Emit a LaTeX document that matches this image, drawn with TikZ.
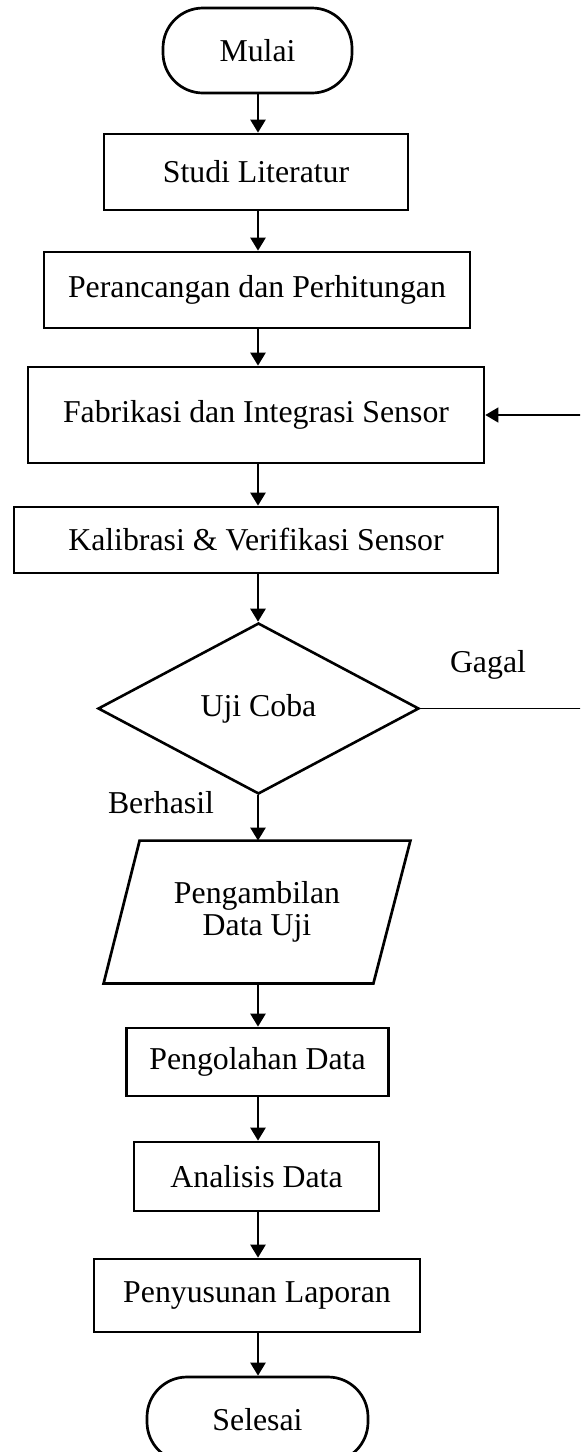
\documentclass[tikz,border=0pt]{standalone}
\usepackage{fontspec}
\setmainfont{Liberation Serif}
\usetikzlibrary{arrows.meta,shapes.geometric,calc}
\begin{document}
\begin{tikzpicture}[x=0.5pt,y=-0.5pt,
  every node/.style={font=\fontsize{15.9pt}{16pt}\selectfont, inner sep=0pt},
  procbox/.style={draw, line width=1.35pt, rectangle},
  termbox/.style={draw, line width=1.35pt, rectangle, rounded corners=20pt},
  decbox/.style={draw, line width=1.3pt, diamond},
  flow/.style={line width=1.25pt, -{Triangle[length=6.5pt,width=7.5pt]}},
  back/.style={line width=0.75pt},
  backarrow/.style={line width=0.75pt, -{Triangle[length=6.5pt,width=7.5pt]}},
  lbl/.style={draw=none}
]
\clip (0,0) rectangle (580,1452);
\fill[white] (0,0) rectangle (580,1452);
\coordinate (axis) at (258,0);

\node[termbox, minimum width=94.5pt, minimum height=42.5pt] (mulai) at (257.5,50.5) {Mulai};
\node[procbox, minimum width=152pt, minimum height=38pt] (studi) at (256,172) {Studi Literatur};
\node[procbox, minimum width=213pt, minimum height=38pt] (ranc) at (257,290) {Perancangan dan Perhitungan};
\node[procbox, minimum width=228pt, minimum height=48pt] (fab) at (256,415) {Fabrikasi dan Integrasi Sensor};
\node[procbox, minimum width=242pt, minimum height=33pt] (kal) at (256,540) {Kalibrasi \& Verifikasi Sensor};
\node[decbox, minimum width=160.5pt, minimum height=85.5pt] (uji) at (258.5,708.5) {Uji Coba};
\node[lbl, minimum width=153pt, minimum height=71pt, align=center] (para) at (257,912) {Pengambilan\\Data Uji};
\draw[line width=1.35pt, line join=miter] ($(para.north west)+(36,0)$) -- (para.north east)
  -- ($(para.south east)+(-37,0)$) -- (para.south west) -- cycle;
\node[procbox, minimum width=131pt, minimum height=34pt] (olah) at (257.5,1062) {Pengolahan Data};
\node[procbox, minimum width=122.5pt, minimum height=34.5pt] (anal) at (256.5,1176.5) {Analisis Data};
\node[procbox, minimum width=163pt, minimum height=36.5pt] (susun) at (257,1295.5) {Penyusunan Laporan};
\node[termbox, minimum width=110.5pt, minimum height=42.5pt] (selesai) at (257.5,1419.5) {Selesai};

\node[lbl] (gagal) at (488,665) {Gagal};
\node[lbl] (berhasil) at (161,803) {Berhasil};

\draw[flow] (mulai.south -| axis) -- (studi.north -| axis);
\draw[flow] (studi.south -| axis) -- (ranc.north -| axis);
\draw[flow] (ranc.south -| axis) -- (fab.north -| axis);
\draw[flow] (fab.south -| axis) -- (kal.north -| axis);
\draw[flow] (kal.south -| axis) -- (uji.north -| axis);
\draw[flow] (uji.south -| axis) -- (para.north -| axis);
\draw[flow] (para.south -| axis) -- (olah.north -| axis);
\draw[flow] (olah.south -| axis) -- (anal.north -| axis);
\draw[flow] (anal.south -| axis) -- (susun.north -| axis);
\draw[flow] (susun.south -| axis) -- (selesai.north -| axis);

\coordinate (r1) at (592,708.5);
\coordinate (r2) at (592,415);
\draw[back] (uji.east) -- (r1) -- (r2);
\draw[backarrow] (r2) -- (fab.east);
\end{tikzpicture}
\end{document}
